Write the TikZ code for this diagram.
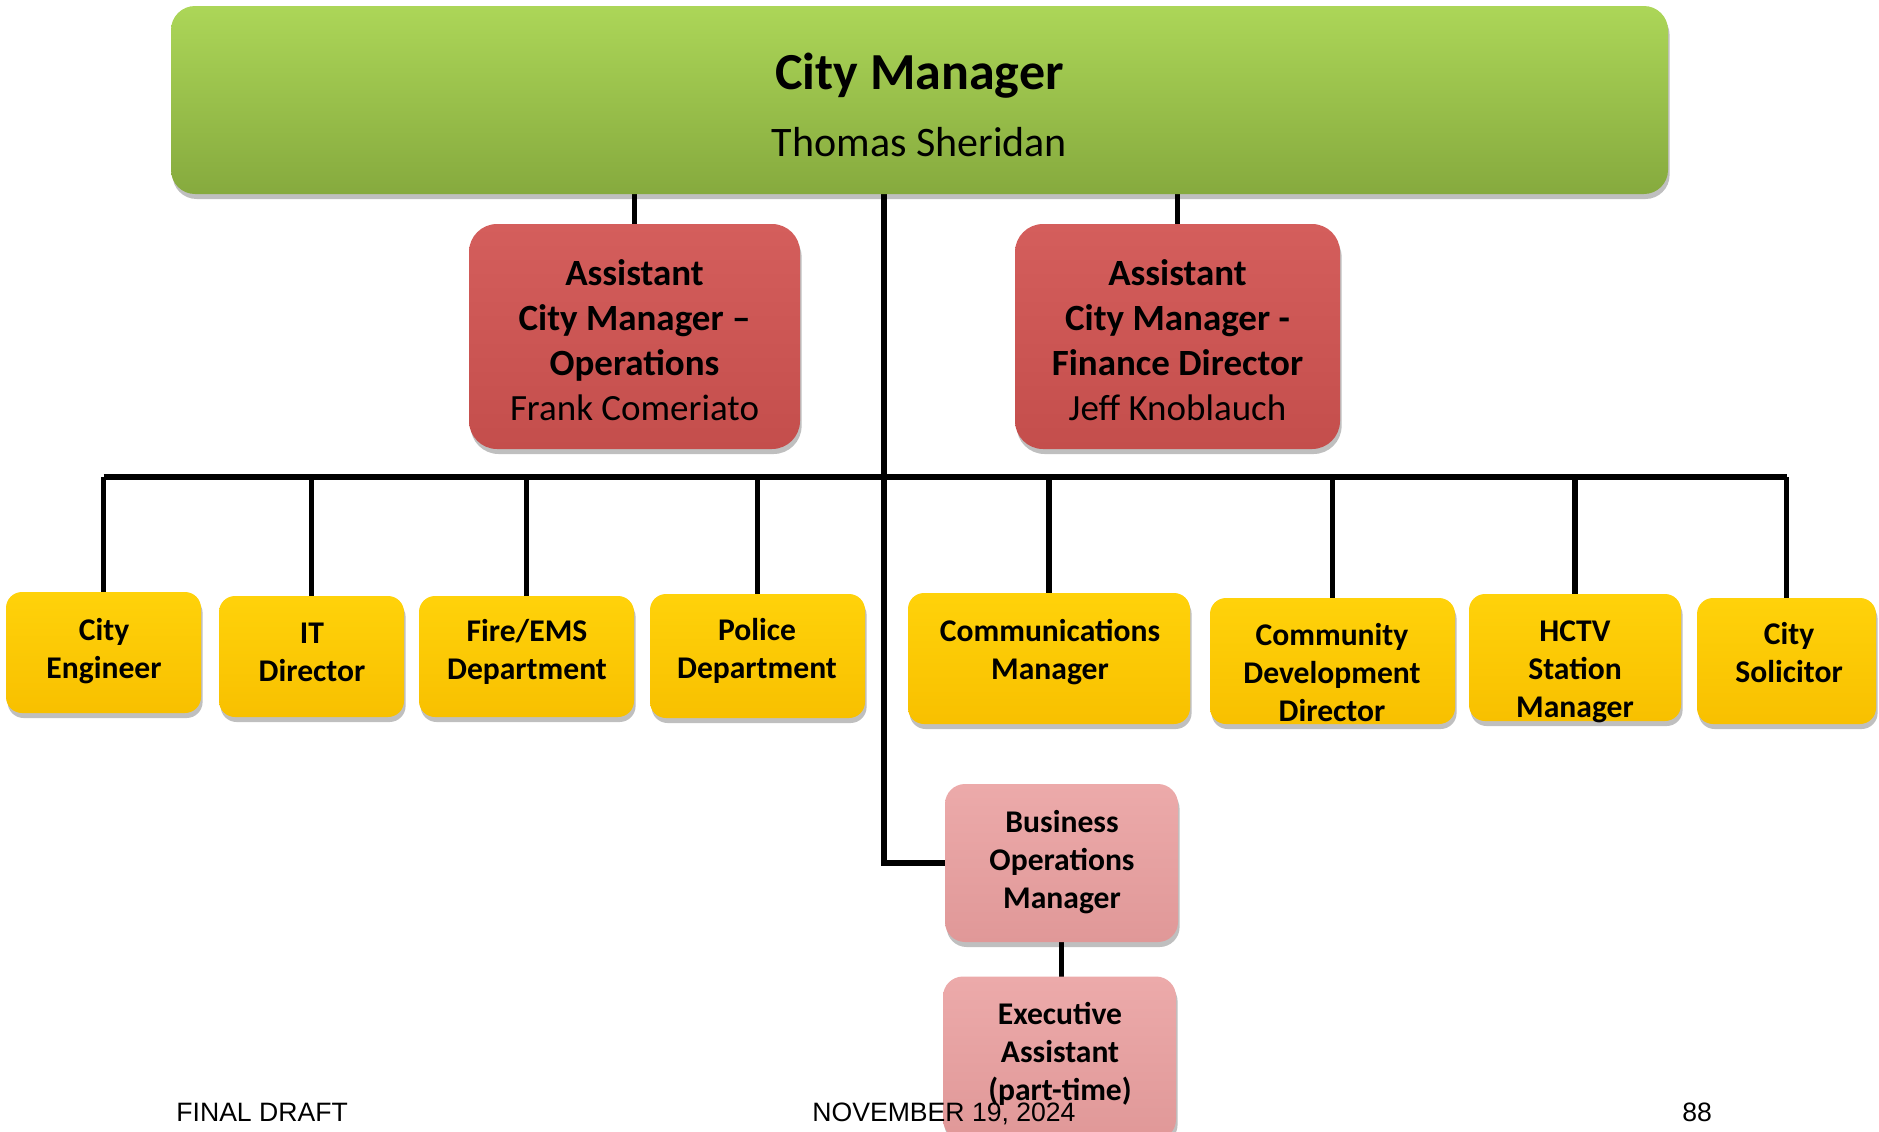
\documentclass[tikz,border=0pt]{standalone}
\usepackage{fontspec}
\setmainfont{Carlito}
\newfontfamily\arialfont{Liberation Sans}
\usetikzlibrary{shadows,backgrounds}
\definecolor{gtop}{RGB}{172,214,88}
\definecolor{gbot}{RGB}{134,170,62}
\definecolor{rtop}{RGB}{212,94,92}
\definecolor{rbot}{RGB}{196,78,76}
\definecolor{ytop}{RGB}{255,210,10}
\definecolor{ybot}{RGB}{248,192,0}
\definecolor{ptop}{RGB}{236,170,170}
\definecolor{pbot}{RGB}{224,152,152}
\tikzset{
  orgbox/.style={draw=none, inner sep=0pt, outer sep=0pt,
    drop shadow={shadow xshift=0.8pt, shadow yshift=-2.5pt, opacity=0.25, fill=black}},
  greenbox/.style={orgbox, rounded corners=12pt, top color=gtop, bottom color=gbot},
  redbox/.style={orgbox, rounded corners=14pt, top color=rtop, bottom color=rbot},
  yellowbox/.style={orgbox, rounded corners=8pt, top color=ytop, bottom color=ybot},
  pinkbox/.style={orgbox, rounded corners=10pt, top color=ptop, bottom color=pbot},
  conn/.style={line width=2.8pt, black, line join=miter},
  rtext/.style={align=center, inner sep=0pt, font=\fontsize{18.5}{22.5}\selectfont},
  ytext/.style={align=center, inner sep=0pt, font=\bfseries\fontsize{15.8}{19}\selectfont},
  foot/.style={anchor=base west, inner sep=0pt, font=\arialfont\fontsize{13.3}{16}\selectfont}
}
\begin{document}
\begin{tikzpicture}[x=0.5pt, y=-0.5pt]
\useasboundingbox (0,0) rectangle (1879,1131);
% boxes
\node[greenbox, minimum width=748.5pt, minimum height=94pt] (green) at (919.5,100) {};
\node[redbox, minimum width=165.5pt, minimum height=112.5pt] (red1) at (634.5,336.5) {};
\node[redbox, minimum width=162.5pt, minimum height=112.5pt] (red2) at (1177.5,336.5) {};
\node[yellowbox, minimum width=97.5pt, minimum height=60.5pt] (y1) at (103.5,652.5) {};
\node[yellowbox, minimum width=92.5pt, minimum height=60.5pt] (y2) at (311.5,656.5) {};
\node[yellowbox, minimum width=107.5pt, minimum height=60.5pt] (y3) at (526.5,656.5) {};
\node[yellowbox, minimum width=107.5pt, minimum height=62pt] (y4) at (757.5,656) {};
\node[yellowbox, minimum width=141pt, minimum height=65.5pt] (y5) at (1049,658.5) {};
\node[yellowbox, minimum width=122.5pt, minimum height=63pt] (y6) at (1332.5,661) {};
\node[yellowbox, minimum width=106pt, minimum height=63.5pt] (y7) at (1575,657.5) {};
\node[yellowbox, minimum width=89.5pt, minimum height=63pt] (y8) at (1786.5,661) {};
\node[pinkbox, minimum width=116.5pt, minimum height=79pt] (bom) at (1061.5,863) {};
\node[pinkbox, minimum width=116.5pt, minimum height=81.5pt] (exec) at (1059.5,1058) {};
% connectors
\coordinate (trunkx) at (884,0);
\coordinate (busy) at (0,477);
\begin{scope}[on background layer]
\draw[conn] (red1.north) -- (red1.north |- green.south);
\draw[conn] (red2.north) -- (red2.north |- green.south);
\draw[conn] (green.south -| trunkx) |- (bom.west);
\draw[conn] (y1.north |- busy) -- (y8.north |- busy);
\foreach \b in {y1,y2,y3,y4,y5,y6,y7,y8}
  \draw[conn] (\b.north) -- (\b.north |- busy);
\draw[conn] (bom.south) -- (bom.south |- exec.north);
\end{scope}
% texts
\node[inner sep=0pt, font=\bfseries\fontsize{26}{31}\selectfont] (t0a) at (919.5,76) {City Manager};
\node[inner sep=0pt, font=\fontsize{21}{25}\selectfont] (t0b) at (919.5,142) {Thomas Sheridan};
\node[rtext] (t1) at (634.5,340) {\textbf{Assistant}\\\textbf{City Manager –}\\\textbf{Operations}\\Frank Comeriato};
\node[rtext] (t2) at (1177.5,340) {\textbf{Assistant}\\\textbf{City Manager -}\\\textbf{Finance Director}\\Jeff Knoblauch};
\node[ytext] (ty1) at (104,651) {City\\Engineer};
\node[ytext] (ty2) at (312,652) {IT\\Director};
\node[ytext] (ty3) at (527,651.5) {Fire/EMS\\Department};
\node[ytext] (ty4) at (757,651) {Police\\Department};
\node[ytext] (ty5) at (1050,652) {Communications\\Manager};
\node[ytext] (ty6) at (1332,672.5) {Community\\Development\\Director};
\node[ytext] (ty7) at (1575,672) {HCTV\\Station\\Manager};
\node[ytext] (ty8) at (1789,653) {City\\Solicitor};
\node[ytext] (tbom) at (1062,862) {Business\\Operations\\Manager};
\node[ytext] (texec) at (1060,1053.5) {Executive\\Assistant\\(part-time)};
% footer
\node[foot] (f1) at (176,1121.5) {FINAL DRAFT};
\node[foot] (f2) at (812,1121.5) {NOVEMBER 19, 2024};
\node[foot] (f3) at (1682,1121.5) {88};
\end{tikzpicture}
\end{document}
